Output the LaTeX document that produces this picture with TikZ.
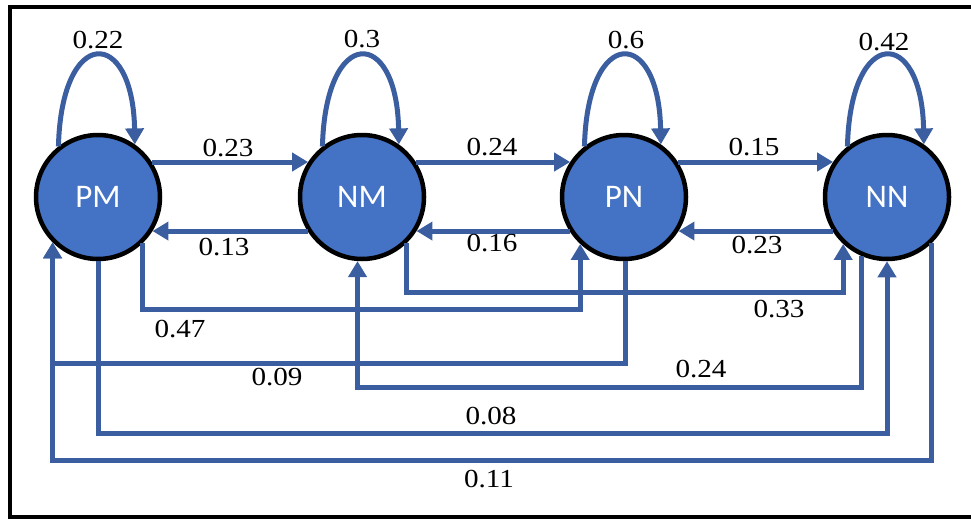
\documentclass[tikz,border=0pt]{standalone}
\usepackage{graphicx}
\usepackage{fontspec}
\setmainfont{Liberation Serif}
\newfontfamily\statefont{Carlito}
\usetikzlibrary{arrows.meta,calc}
\definecolor{nodeblue}{RGB}{68,114,196}
\definecolor{linkblue}{RGB}{59,94,160}
\newcommand{\pr}[1]{\scalebox{1.12}[1]{#1}}
\begin{document}
\begin{tikzpicture}[x=1pt,y=-1pt,
  state/.style={circle,draw=black,line width=4.5pt,fill=nodeblue,minimum size=124pt,
    inner sep=0pt,text=white,font=\statefont\fontsize{33}{33}\selectfont},
  link/.style={draw=linkblue,line width=5pt,-{Triangle[length=16pt,width=18pt]}},
  prob/.style={inner sep=0pt,font=\fontsize{26}{26}\selectfont}]
\useasboundingbox (0,0) rectangle (971,519);
\fill[white] (0,0) rectangle (971,519);
% frame (right side outside the picture)
\draw[line width=4pt] (971,7) -- (10,7) -- (10,517) -- (971,517);

% states
\node[state] (PM) at (98,197) {PM};
\node[state] (NM) at (362,197) {NM};
\node[state] (PN) at (624,197) {PN};
\node[state] (NN) at (887,197) {NN};

% self loops
\foreach \s in {PM,NM,PN,NN}{
  \draw[link] (\s.128) .. controls ($(\s.128)+(3,-121)$) and ($(\s.55)+(-2,-118)$) .. (\s.55);
}

% neighbouring transitions
\draw[link] (PM.33) -- (NM.147);
\draw[link] (NM.-148) -- (PM.-32);
\draw[link] (NM.33) -- (PN.147);
\draw[link] (PN.-148) -- (NM.-32);
\draw[link] (PN.33) -- (NN.147);
\draw[link] (NN.-148) -- (PN.-32);

% levels of the long connectors
\coordinate (h33) at (0,292);
\coordinate (h47) at (0,309);
\coordinate (h09) at (0,363);
\coordinate (h24) at (0,387);
\coordinate (h08) at (0,433);
\coordinate (h11) at (0,460);

\draw[link] (NM.-46) -- (NM.-46 |- h33) -| (NN.-133);
\draw[link] (PM.-46) -- (PM.-46 |- h47) -| (PN.-133);
\draw[link] (PN.-89) -- (PN.-89 |- h09) -| (PM.-135);
\draw[link] (NN.-113) -- (NN.-113 |- h24) -| (NM.-94);
\draw[link] (PM.-90) -- (PM.-90 |- h08) -| (NN.-90);
\draw[link] (NN.-46) -- (NN.-46 |- h11) -| (PM.-135);

% probabilities
\node[prob] (p22) at (98,40) {\pr{0.22}};
\node[prob] (p30) at (362,39) {\pr{0.3}};
\node[prob] (p60) at (626,40) {\pr{0.6}};
\node[prob] (p42) at (884,42) {\pr{0.42}};
\node[prob] (p23a) at (228,148) {\pr{0.23}};
\node[prob] (p24a) at (492,147) {\pr{0.24}};
\node[prob] (p15) at (754,147) {\pr{0.15}};
\node[prob] (p13) at (224,247) {\pr{0.13}};
\node[prob] (p16) at (492,243) {\pr{0.16}};
\node[prob] (p23b) at (757,245) {\pr{0.23}};
\node[prob] (p33) at (779,309) {\pr{0.33}};
\node[prob] (p47) at (180,329) {\pr{0.47}};
\node[prob] (p24b) at (701,369) {\pr{0.24}};
\node[prob] (p09) at (277,377) {\pr{0.09}};
\node[prob] (p08) at (491,416) {\pr{0.08}};
\node[prob] (p11) at (489,479) {\pr{0.11}};
\end{tikzpicture}
\end{document}
